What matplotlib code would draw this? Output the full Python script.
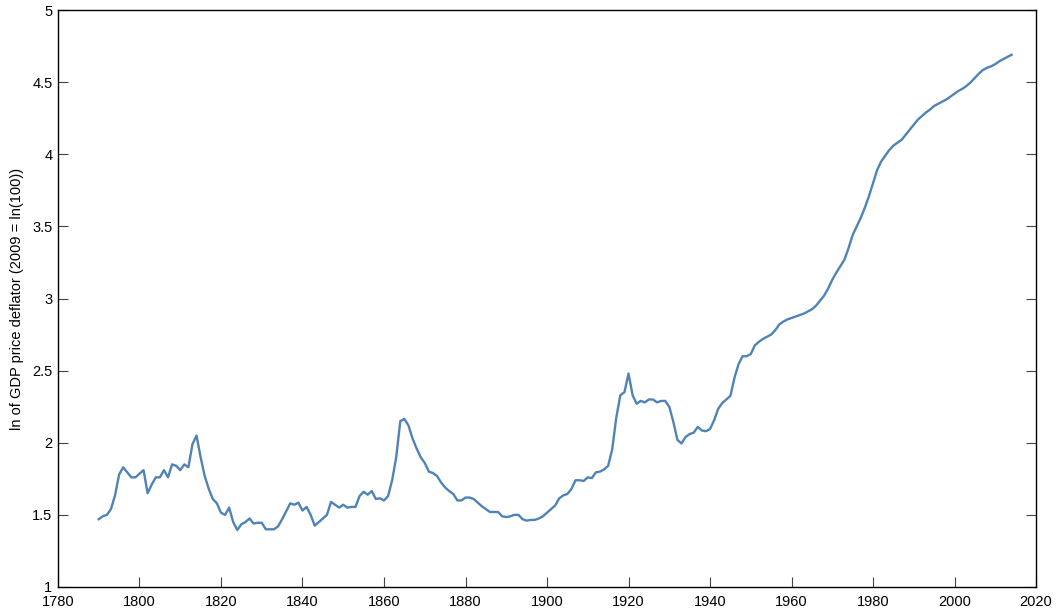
import matplotlib
matplotlib.use("Agg")
import matplotlib.pyplot as plt
import numpy as np
from matplotlib.ticker import FuncFormatter

# annual series, 1790-2014
years = np.arange(1790, 2015)

deflator_1790_1846 = [
    1.47, 1.49, 1.50, 1.54, 1.635, 1.78, 1.83, 1.795, 1.76, 1.76,
    1.785, 1.81, 1.65, 1.71, 1.76, 1.76, 1.81, 1.76, 1.85, 1.84,
    1.81, 1.85, 1.83, 1.99, 2.05, 1.90, 1.77, 1.68, 1.61, 1.58,
    1.515, 1.50, 1.55, 1.45, 1.395, 1.435, 1.45, 1.475, 1.44, 1.445,
    1.445, 1.40, 1.40, 1.40, 1.42, 1.47, 1.525, 1.58, 1.57, 1.585,
    1.53, 1.555, 1.50, 1.425, 1.45, 1.475, 1.50,
]
deflator_1847_1899 = [
    1.59, 1.57, 1.55, 1.57, 1.55, 1.555, 1.555, 1.63, 1.66, 1.64,
    1.665, 1.61, 1.615, 1.60, 1.63, 1.74, 1.90, 2.15, 2.165, 2.12,
    2.03, 1.96, 1.90, 1.86, 1.80, 1.79, 1.77, 1.725, 1.69, 1.665,
    1.645, 1.60, 1.60, 1.62, 1.62, 1.61, 1.585, 1.56, 1.54, 1.52,
    1.52, 1.52, 1.49, 1.485, 1.49, 1.50, 1.50, 1.47, 1.46, 1.465,
    1.465, 1.475, 1.49,
]
deflator_1900_1951 = [
    1.515, 1.54, 1.565, 1.615, 1.635, 1.645, 1.68, 1.74, 1.74, 1.735,
    1.76, 1.755, 1.795, 1.80, 1.815, 1.84, 1.955, 2.175, 2.33, 2.35,
    2.48, 2.33, 2.27, 2.29, 2.28, 2.30, 2.30, 2.28, 2.29, 2.29,
    2.25, 2.145, 2.02, 1.995, 2.04, 2.06, 2.07, 2.11, 2.085, 2.08,
    2.095, 2.155, 2.235, 2.275, 2.30, 2.325, 2.45, 2.545, 2.60, 2.60,
    2.615, 2.675,
]
deflator_1952_2014 = [
    2.70, 2.72, 2.735, 2.75, 2.78, 2.82, 2.84, 2.855, 2.865, 2.875,
    2.885, 2.895, 2.91, 2.925, 2.95, 2.985, 3.02, 3.07, 3.13, 3.18,
    3.225, 3.27, 3.35, 3.44, 3.50, 3.56, 3.63, 3.71, 3.80, 3.89,
    3.95, 3.99, 4.03, 4.06, 4.08, 4.10, 4.135, 4.17, 4.205, 4.24,
    4.265, 4.29, 4.31, 4.335, 4.35, 4.365, 4.38, 4.40, 4.42, 4.44,
    4.455, 4.475, 4.50, 4.53, 4.56, 4.585, 4.60, 4.61, 4.625, 4.645,
    4.66, 4.675, 4.69,
]
deflator = deflator_1790_1846 + deflator_1847_1899 + deflator_1900_1951 + deflator_1952_2014
assert len(deflator) == len(years)

x_ticks = np.arange(1780, 2021, 20)
y_ticks = np.arange(1, 5.01, 0.5)

plt.rcParams["font.family"] = ["Liberation Sans", "DejaVu Sans"]

fig = plt.figure(figsize=(10.56, 6.11), dpi=100)
ax = fig.add_axes([0.0549, 0.0393, 0.9262, 0.9443])

ax.plot(years, deflator, color="#5083b5", lw=1.7)

ax.set_xlim(1780, 2020)
ax.set_ylim(1, 5)
ax.set_xticks(x_ticks)
ax.set_yticks(y_ticks)
ax.yaxis.set_major_formatter(FuncFormatter(lambda v, _: f"{v:g}"))

ax.tick_params(axis="both", direction="in", length=7, width=0.8, color="#444444",
               labelsize=10.5)
ax.tick_params(axis="x", pad=6)
ax.tick_params(axis="y", right=True, labelright=False, pad=4)
for s in ax.spines.values():
    s.set_linewidth(1.0)
    s.set_color("black")

ax.set_ylabel("ln of GDP price deflator (2009 = ln(100))", fontsize=10.5, labelpad=6)

fig.savefig("out.png", dpi=100)
